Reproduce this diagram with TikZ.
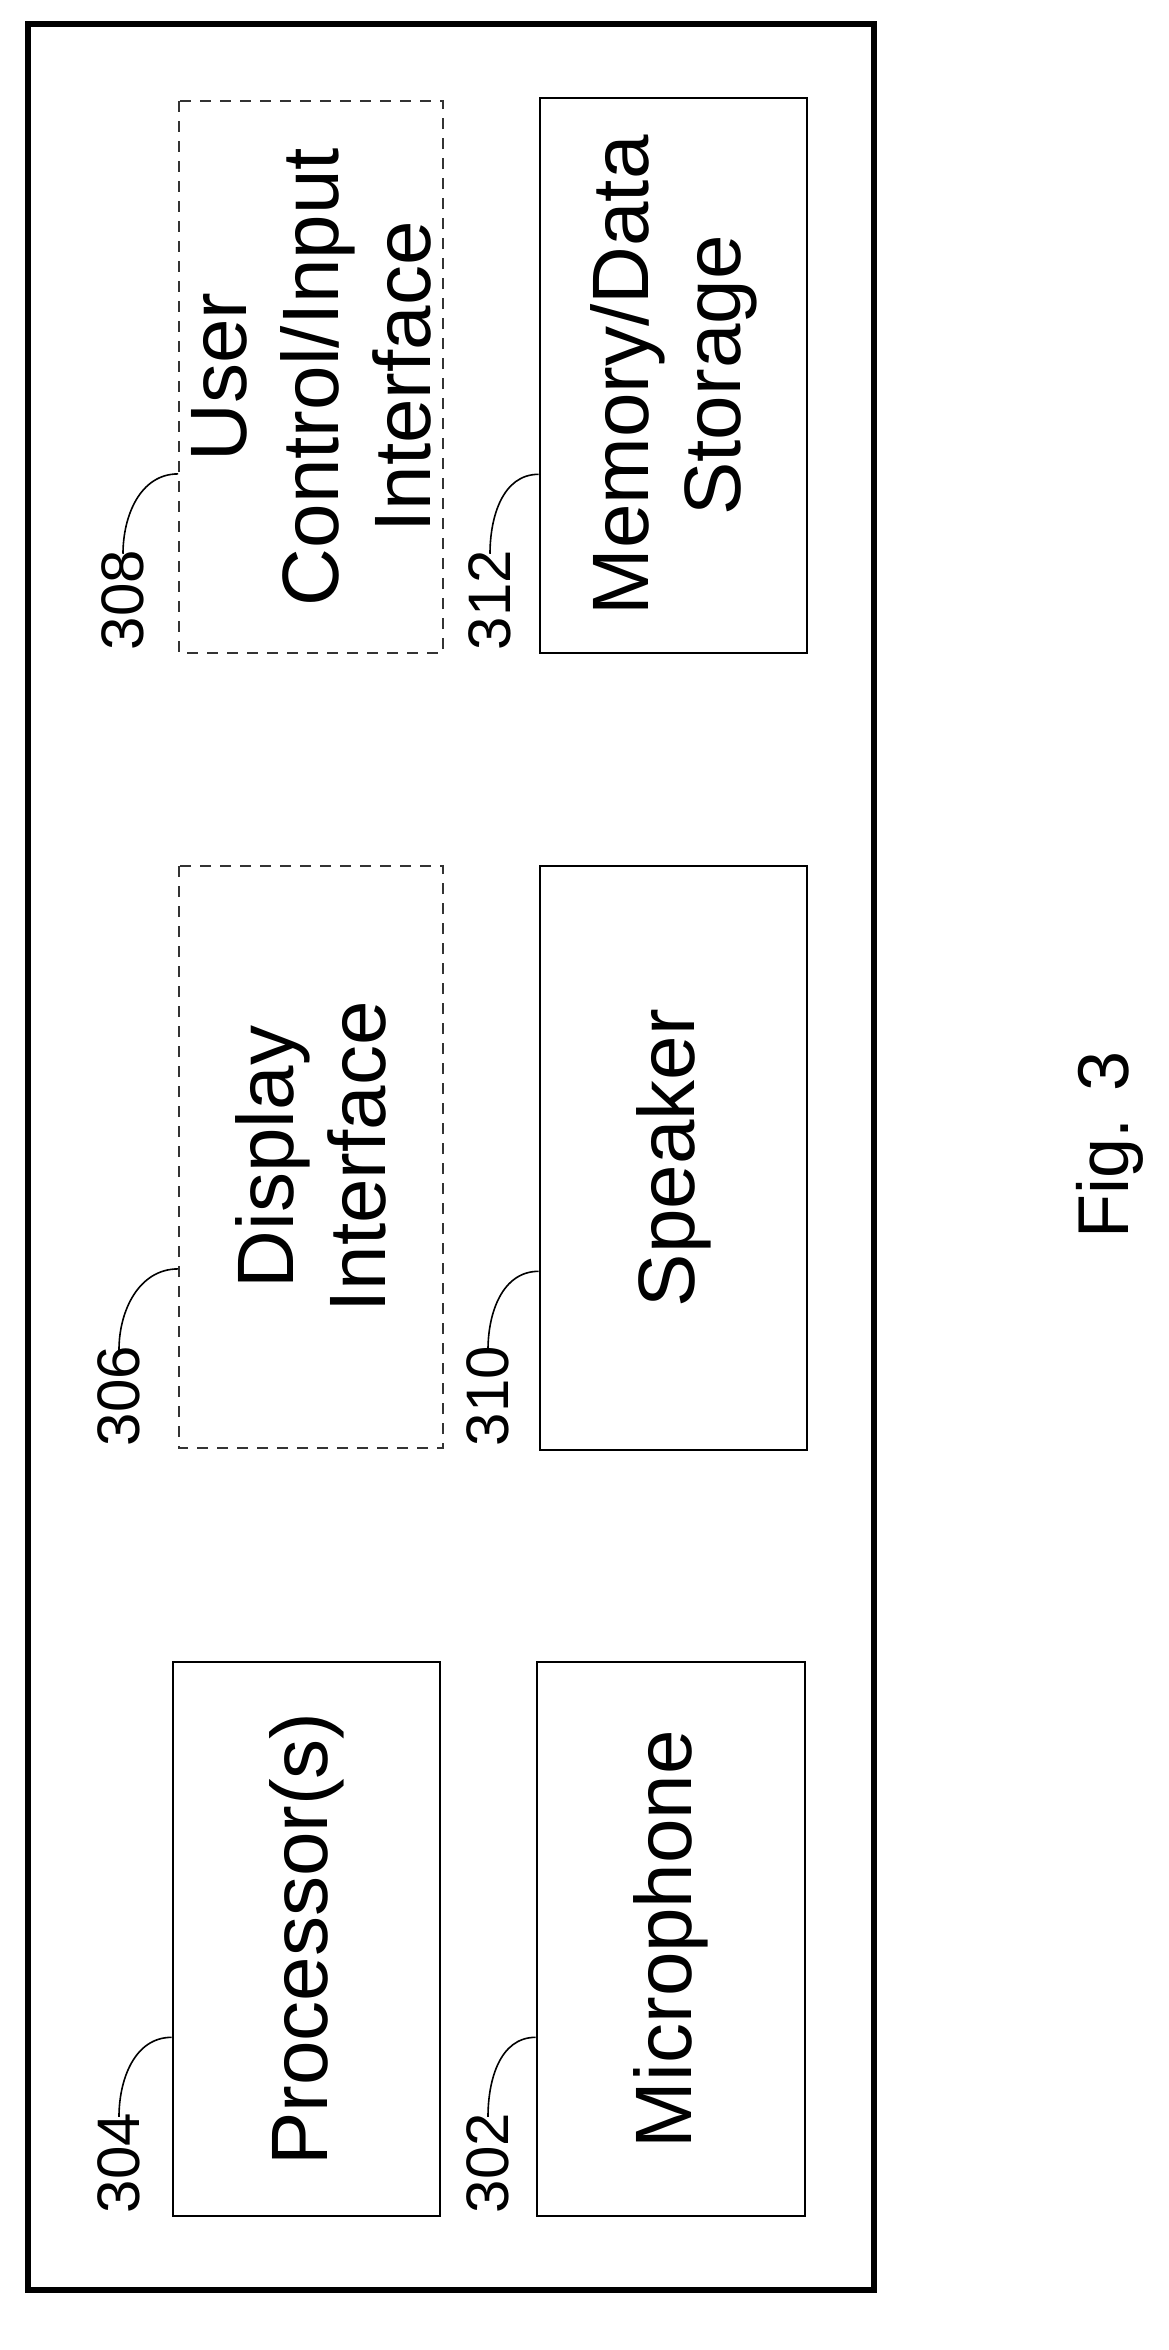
\documentclass[tikz,border=0pt]{standalone}
\usepackage{fontspec}
\setmainfont{Liberation Sans}
\usetikzlibrary{positioning}
\tikzset{
  blk/.style={draw, line width=2.6pt, rotate=90, align=center, inner sep=0pt,
    font=\fontsize{80}{92}\selectfont},
  optblk/.style={blk, line width=1.8pt, dash pattern=on 11pt off 9pt, draw=black!80},
  refnum/.style={rotate=90, inner sep=0pt, font=\fontsize{60}{60}\selectfont},
  lead/.style={line width=1.6pt}
}
\begin{document}
\begin{tikzpicture}[x=1pt, y=1pt]
\useasboundingbox (0,0) rectangle (1168,-2350);
%frame:
\draw[line width=5.5pt] (28,-24) rectangle (874,-2290);

%blocks:
\node[blk, minimum width=554pt, minimum height=267pt] (proc) at (306.5,-1939) {Processor(s)};
\node[blk, minimum width=554pt, minimum height=268pt] (mic) at (671,-1939) {Microphone};
\node[optblk, minimum width=582pt, minimum height=264pt] (disp) at (311,-1157) {Display\\Interface};
\node[blk, minimum width=584pt, minimum height=267pt] (spk) at (673.5,-1158) {Speaker};
\node[optblk, minimum width=552pt, minimum height=264pt] (uci) at (311,-377) {User\\Control/Input\\Interface};
\node[blk, minimum width=555pt, minimum height=267pt] (mem) at (673.5,-375.5) {Memory/Data\\Storage};

%reference numbers:
\node[refnum] (r304) at (119,-2163) {304};
\node[refnum] (r302) at (488,-2163) {302};
\node[refnum] (r306) at (119,-1396) {306};
\node[refnum] (r310) at (488,-1396) {310};
\node[refnum] (r308) at (123,-600) {308};
\node[refnum] (r312) at (490,-600) {312};

\draw[lead] ([yshift=-4pt]r304.east) to[out=90, in=180] ([yshift=180pt]proc.north west);
\draw[lead] ([yshift=-4pt]r302.east) to[out=90, in=180] ([yshift=180pt]mic.north west);
\draw[lead] ([yshift=-4pt]r306.east) to[out=90, in=180] ([yshift=180pt]disp.north west);
\draw[lead] ([yshift=-4pt]r310.east) to[out=90, in=180] ([yshift=180pt]spk.north west);
\draw[lead] ([yshift=-4pt]r308.east) to[out=90, in=180] ([yshift=180pt]uci.north west);
\draw[lead] ([yshift=-4pt]r312.east) to[out=90, in=180] ([yshift=180pt]mem.north west);

%caption:
\node[rotate=90, font=\fontsize{72}{72}\selectfont] (fig) at (1110,-1145) {Fig. 3};
\end{tikzpicture}
\end{document}
